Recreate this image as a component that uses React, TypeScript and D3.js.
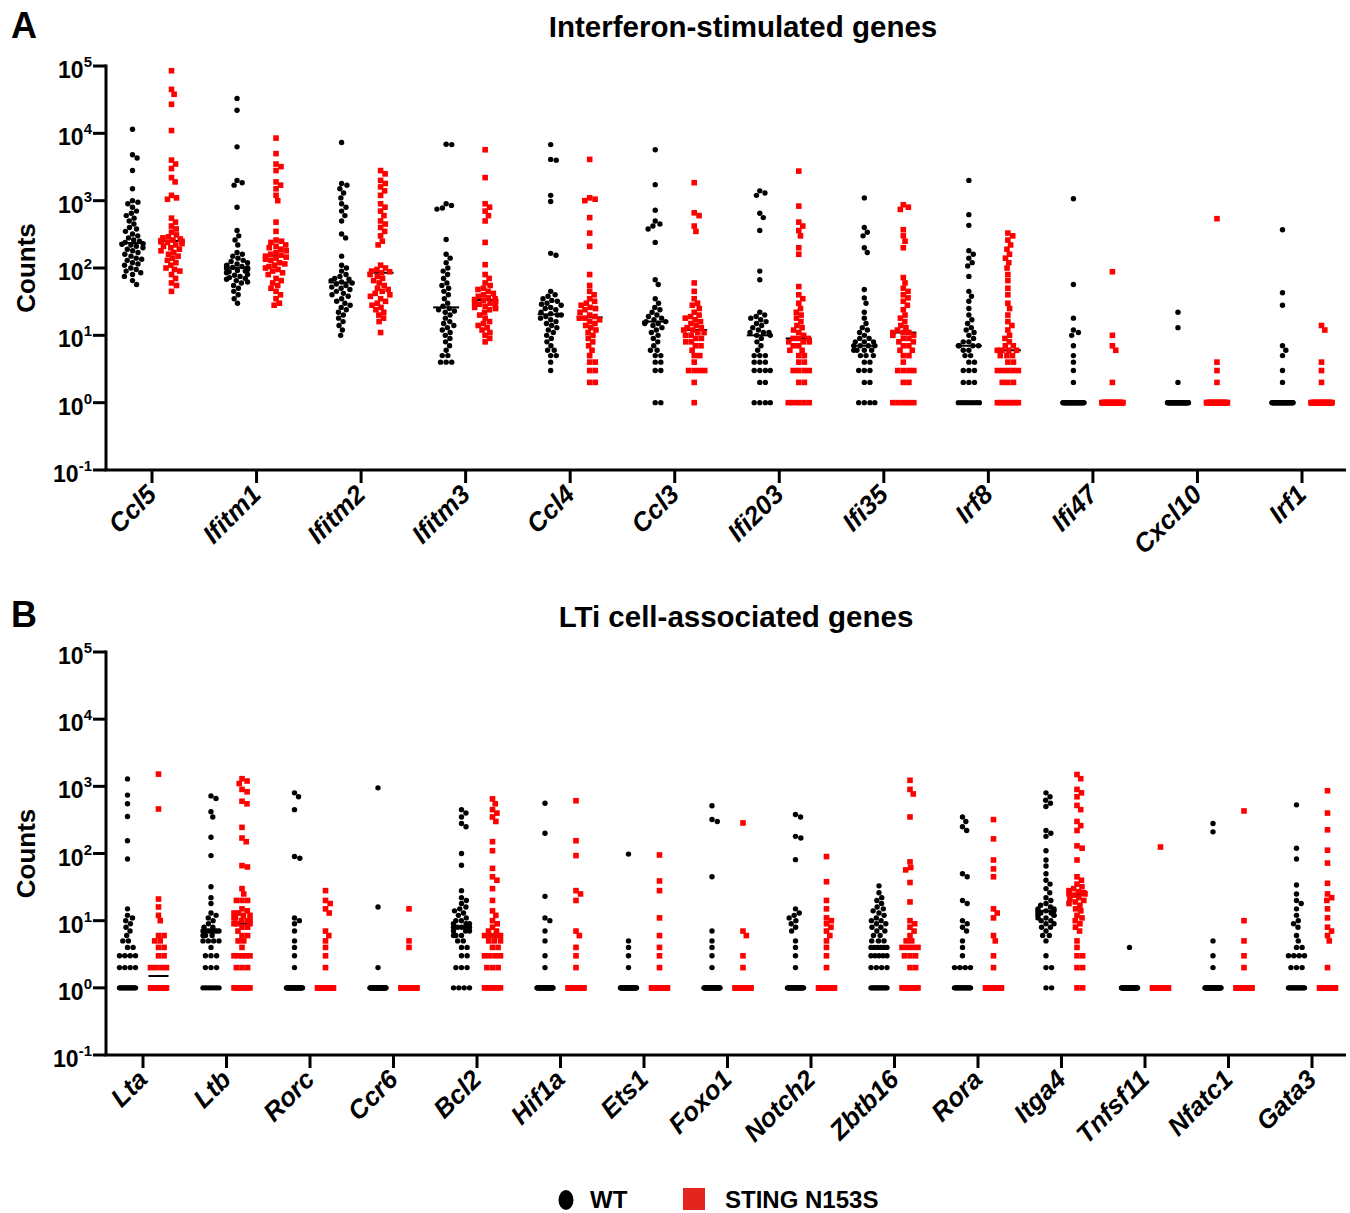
import React from "react";
import * as d3 from "d3";

// ---------- DATA ----------
const genesA = ["Ccl5", "Ifitm1", "Ifitm2", "Ifitm3", "Ccl4", "Ccl3", "Ifi203", "Ifi35", "Irf8", "Ifi47", "Cxcl10", "Irf1"];

const wtA: number[][] = [
  [11500, 4800, 4300, 2800, 1500, 1000, 950, 900, 800, 700, 650, 600, 550, 500, 450, 400, 380, 350, 320, 300, 280, 260, 250, 240, 230, 225, 220, 210, 200, 190, 180, 170, 160, 150, 140, 135, 130, 120, 115, 110, 100, 95, 90, 85, 80, 75, 65, 57],
  [33000, 22000, 6300, 2000, 1850, 1700, 800, 360, 300, 260, 220, 170, 160, 150, 140, 130, 125, 120, 115, 110, 108, 105, 102, 100, 100, 98, 95, 92, 90, 88, 85, 80, 78, 75, 72, 70, 68, 65, 62, 60, 55, 50, 45, 40, 35, 30],
  [7300, 1800, 1700, 1500, 1300, 1100, 900, 800, 700, 600, 500, 320, 280, 150, 110, 100, 90, 80, 75, 70, 68, 65, 62, 60, 58, 55, 52, 50, 48, 45, 42, 40, 38, 35, 32, 30, 28, 26, 24, 22, 20, 18, 16, 14, 12, 10],
  [6900, 6800, 900, 850, 780, 750, 265, 160, 140, 120, 100, 90, 80, 70, 60, 55, 50, 45, 40, 35, 30, 27, 25, 24, 23, 22, 20, 18, 16, 15, 14, 13, 12, 11, 10, 9, 8, 7, 6, 5, 5, 4, 4, 4],
  [6800, 4100, 4000, 1200, 970, 165, 155, 45, 40, 38, 35, 33, 32, 30, 29, 28, 26, 25, 24, 22, 21, 20, 20, 19, 18, 17, 16, 15, 14, 13, 12, 11, 10, 9, 8, 7, 6, 6, 5, 5, 4, 3],
  [5700, 1730, 720, 500, 450, 420, 380, 240, 67, 57, 35, 30, 26, 24, 22, 20, 19, 18, 17, 16, 16, 15, 15, 14, 13, 12, 11, 10, 9, 8, 7, 6, 6, 5, 5, 4, 4, 3, 3, 1, 1],
  [1400, 1300, 1200, 650, 560, 360, 90, 67, 22, 20, 19, 18, 17, 16, 15, 14, 13, 12, 11, 11, 11, 10, 10, 9, 8, 7, 6, 5, 5, 5, 4, 4, 4, 3, 3, 3, 3, 2, 2, 1, 1, 1, 1],
  [1100, 400, 340, 300, 200, 170, 48, 36, 30, 22, 18, 15, 13, 12, 11, 10, 9, 9, 8, 8, 8, 7, 7, 7, 7, 6, 6, 6, 6, 5, 5, 5, 4, 4, 3, 3, 3, 2, 2, 1, 1, 1, 1],
  [2000, 620, 430, 180, 160, 140, 120, 107, 75, 45, 38, 32, 25, 20, 17, 15, 13, 12, 11, 10, 9, 8, 8, 7, 7, 7, 7, 6, 6, 5, 5, 4, 4, 3, 3, 3, 2, 2, 2, 1, 1, 1, 1, 1, 1, 1, 1],
  [1070, 57, 18, 12, 11, 10, 7, 5, 4, 3, 2,
    1, 1, 1, 1, 1, 1, 1, 1, 1, 1, 1, 1, 1, 1, 1, 1, 1, 1, 1, 1, 1, 1, 1, 1, 1, 1, 1, 1, 1, 1, 1, 1, 1, 1],
  [22, 13, 2,
    1, 1, 1, 1, 1, 1, 1, 1, 1, 1, 1, 1, 1, 1, 1, 1, 1, 1, 1, 1, 1, 1, 1, 1, 1, 1, 1, 1, 1, 1, 1, 1, 1, 1, 1, 1, 1, 1, 1, 1, 1, 1, 1, 1, 1, 1],
  [370, 43, 28, 7, 6, 5, 3, 2,
    1, 1, 1, 1, 1, 1, 1, 1, 1, 1, 1, 1, 1, 1, 1, 1, 1, 1, 1, 1, 1, 1, 1, 1, 1, 1, 1, 1, 1, 1, 1, 1, 1, 1, 1, 1, 1],
];

const stingA: number[][] = [
  [85000, 45000, 38000, 27000, 11000, 4000, 3500, 3000, 2200, 1900, 1200, 1100, 1050, 550, 480, 420, 380, 340, 310, 290, 280, 270, 260, 255, 250, 245, 240, 230, 220, 210, 200, 190, 180, 170, 160, 150, 140, 130, 120, 110, 100, 95, 90, 80, 70, 60, 55, 45],
  [8500, 5000, 3500, 3200, 2800, 1900, 1700, 1500, 1200, 1000, 480, 350, 260, 250, 240, 220, 210, 200, 190, 180, 170, 160, 155, 150, 145, 140, 135, 130, 120, 115, 110, 105, 100, 95, 90, 85, 80, 70, 65, 60, 55, 50, 45, 40, 35, 30, 28],
  [2800, 2500, 2000, 1800, 1600, 1400, 1200, 900, 800, 700, 600, 500, 450, 400, 350, 300, 250, 220, 110, 100, 95, 90, 88, 85, 80, 75, 70, 65, 60, 55, 50, 48, 45, 42, 40, 38, 35, 32, 30, 28, 26, 24, 22, 20, 18, 16, 11],
  [5700, 2200, 900, 800, 700, 600, 500, 240, 112, 80, 70, 60, 55, 50, 48, 45, 42, 40, 38, 36, 35, 34, 33, 32, 31, 30, 29, 28, 27, 26, 25, 24, 22, 20, 18, 16, 15, 14, 13, 12, 11, 10, 9, 8],
  [4100, 1100, 1050, 1000, 560, 330, 210, 80, 55, 45, 40, 35, 32, 30, 28, 26, 25, 24, 22, 20, 19, 18, 18, 17, 16, 15, 14, 13, 12, 11, 10, 9, 8, 7, 6, 5, 4, 4, 3, 3, 2, 2],
  [1850, 660, 600, 420, 350, 60, 45, 35, 30, 28, 25, 22, 20, 19, 18, 17, 16, 15, 14, 13, 13, 12, 12, 11, 11, 10, 10, 9, 9, 8, 8, 7, 7, 6, 5, 5, 4, 3, 3, 3, 3, 2, 1],
  [2750, 830, 480, 420, 360, 300, 200, 160, 53, 40, 35, 30, 25, 22, 20, 18, 16, 14, 13, 12, 11, 10, 9, 9, 9, 8, 8, 8, 7, 7, 6, 6, 5, 5, 4, 4, 3, 3, 3, 3, 2, 2, 1, 1, 1, 1, 1],
  [870, 800, 740, 370, 300, 250, 200, 72, 60, 50, 45, 40, 36, 32, 28, 24, 20, 18, 16, 14, 13, 12, 11, 11, 11, 10, 10, 9, 9, 8, 8, 7, 7, 6, 6, 5, 5, 4, 3, 3, 3, 3, 2, 2, 1, 1, 1, 1, 1],
  [330, 300, 260, 220, 190, 160, 140, 120, 100, 80, 65, 50, 40, 30, 25, 20, 16, 14, 12, 10, 9, 8, 7, 7, 6, 6, 6, 6, 5, 5, 5, 4, 4, 3, 3, 3, 3, 3, 2, 2, 2, 1, 1, 1, 1, 1, 1, 1, 1],
  [88, 10, 7, 6, 2,
    1, 1, 1, 1, 1, 1, 1, 1, 1, 1, 1, 1, 1, 1, 1, 1, 1, 1, 1, 1, 1, 1, 1, 1, 1, 1, 1, 1, 1, 1, 1, 1, 1, 1, 1, 1, 1, 1, 1, 1],
  [540, 4, 3, 2,
    1, 1, 1, 1, 1, 1, 1, 1, 1, 1, 1, 1, 1, 1, 1, 1, 1, 1, 1, 1, 1, 1, 1, 1, 1, 1, 1, 1, 1, 1, 1, 1, 1, 1, 1, 1, 1, 1, 1, 1, 1],
  [14, 12, 4, 3, 2,
    1, 1, 1, 1, 1, 1, 1, 1, 1, 1, 1, 1, 1, 1, 1, 1, 1, 1, 1, 1, 1, 1, 1, 1, 1, 1, 1, 1, 1, 1, 1, 1, 1, 1, 1, 1, 1, 1, 1, 1],
];

const genesB = ["Lta", "Ltb", "Rorc", "Ccr6", "Bcl2", "Hif1a", "Ets1", "Foxo1", "Notch2", "Zbtb16", "Rora", "Itga4", "Tnfsf11", "Nfatc1", "Gata3"];

const wtB: number[][] = [
  [1290, 740, 550, 355, 155, 83, 15, 12, 11, 10, 9, 8, 7, 6, 5, 5, 4, 4, 3, 3, 3, 3, 2, 2, 2, 2,
    1, 1, 1, 1, 1, 1, 1, 1, 1, 1, 1, 1, 1, 1],
  [720, 660, 420, 350, 175, 93, 32, 22, 18, 13, 12, 11, 10, 9, 8, 8, 7, 7, 7, 7, 7, 7, 7, 7, 6, 6, 6, 5, 5, 5, 5, 4, 3, 3, 3, 2, 2, 2, 1, 1, 1, 1, 1, 1, 1],
  [800, 700, 450, 90, 85, 11, 10, 9, 7, 5, 4, 3, 2,
    1, 1, 1, 1, 1, 1, 1, 1, 1, 1, 1, 1, 1, 1, 1, 1, 1, 1, 1, 1, 1, 1, 1, 1, 1, 1, 1, 1, 1, 1, 1, 1],
  [950, 16, 2,
    1, 1, 1, 1, 1, 1, 1, 1, 1, 1, 1, 1, 1, 1, 1, 1, 1, 1, 1, 1, 1, 1, 1, 1, 1, 1, 1, 1, 1, 1, 1, 1, 1, 1, 1, 1, 1, 1, 1, 1, 1, 1, 1, 1, 1, 1],
  [450, 400, 350, 280, 250, 100, 67, 28, 22, 20, 18, 16, 15, 14, 13, 12, 11, 10, 10, 9, 9, 9, 8, 8, 8, 8, 8, 7, 7, 7, 6, 6, 6, 5, 5, 4, 4, 3, 3, 2, 2, 2, 1, 1, 1, 1],
  [560, 200, 23, 11, 10, 7, 5, 3, 2,
    1, 1, 1, 1, 1, 1, 1, 1, 1, 1, 1, 1, 1, 1, 1, 1, 1, 1, 1, 1, 1, 1, 1, 1, 1, 1, 1, 1, 1, 1, 1, 1, 1, 1, 1, 1],
  [98, 5, 4, 3, 2,
    1, 1, 1, 1, 1, 1, 1, 1, 1, 1, 1, 1, 1, 1, 1, 1, 1, 1, 1, 1, 1, 1, 1, 1, 1, 1, 1, 1, 1, 1, 1, 1, 1, 1, 1, 1, 1, 1, 1, 1],
  [515, 320, 300, 45, 7, 5, 4, 3, 2,
    1, 1, 1, 1, 1, 1, 1, 1, 1, 1, 1, 1, 1, 1, 1, 1, 1, 1, 1, 1, 1, 1, 1, 1, 1, 1, 1, 1, 1, 1, 1, 1, 1, 1, 1, 1],
  [380, 350, 180, 170, 81, 15, 13, 12, 11, 10, 9, 8, 7, 5, 4, 3, 2,
    1, 1, 1, 1, 1, 1, 1, 1, 1, 1, 1, 1, 1, 1, 1, 1, 1, 1, 1, 1, 1, 1, 1, 1, 1, 1, 1, 1],
  [33, 26, 22, 20, 18, 16, 15, 14, 13, 12, 11, 10, 10, 9, 9, 8, 8, 7, 7, 6, 6, 5, 5, 5, 4, 4, 4, 4, 4, 4, 3, 3, 3, 3, 3, 2, 2, 2, 2,
    1, 1, 1, 1, 1, 1, 1, 1, 1, 1, 1, 1],
  [350, 300, 250, 220, 50, 45, 20, 18, 10, 9, 8, 7, 5, 4, 3, 2, 2, 2, 2,
    1, 1, 1, 1, 1, 1, 1, 1, 1, 1, 1, 1, 1, 1, 1, 1],
  [800, 700, 620, 560, 500, 220, 200, 180, 110, 80, 65, 50, 40, 35, 30, 26, 22, 20, 18, 17, 16, 15, 15, 14, 14, 14, 13, 13, 13, 12, 12, 12, 11, 11, 10, 10, 9, 9, 8, 8, 7, 6, 6, 5, 3, 2, 2, 1, 1],
  [4,
    1, 1, 1, 1, 1, 1, 1, 1, 1, 1, 1, 1, 1, 1, 1, 1, 1, 1, 1, 1, 1, 1, 1, 1, 1, 1, 1, 1, 1, 1, 1, 1, 1, 1, 1, 1, 1, 1, 1, 1, 1, 1, 1, 1],
  [280, 210, 5, 3, 2,
    1, 1, 1, 1, 1, 1, 1, 1, 1, 1, 1, 1, 1, 1, 1, 1, 1, 1, 1, 1, 1, 1, 1, 1, 1, 1, 1, 1, 1, 1, 1, 1, 1, 1, 1, 1, 1, 1, 1, 1],
  [530, 120, 83, 34, 25, 20, 18, 15, 12, 10, 9, 8, 6, 5, 4, 4, 3, 3, 3, 3, 2, 2, 2,
    1, 1, 1, 1, 1, 1, 1, 1, 1, 1, 1, 1, 1, 1],
];

const stingB: number[][] = [
  [1520, 460, 21, 16, 12, 10, 6, 6, 5, 5, 4, 4, 3, 3, 2, 2, 2, 2,
    1, 1, 1, 1, 1, 1, 1, 1, 1, 1, 1, 1, 1, 1, 1, 1, 1, 1],
  [1300, 1200, 1100, 900, 830, 600, 550, 245, 170, 150, 66, 63, 30, 25, 20, 20, 20, 15, 14, 13, 13, 12, 12, 11, 11, 10, 10, 10, 9, 9, 9, 8, 8, 7, 6, 6, 5, 5, 4, 3, 3, 3, 3, 3, 2, 2, 2,
    1, 1, 1, 1, 1, 1, 1, 1, 1, 1],
  [28, 20, 18, 15, 13, 7, 6, 5, 4, 3, 2,
    1, 1, 1, 1, 1, 1, 1, 1, 1, 1, 1, 1, 1, 1, 1, 1, 1, 1, 1, 1, 1, 1, 1, 1, 1, 1, 1, 1, 1, 1, 1, 1, 1, 1],
  [15, 5, 4,
    1, 1, 1, 1, 1, 1, 1, 1, 1, 1, 1, 1, 1, 1, 1, 1, 1, 1, 1, 1, 1, 1, 1, 1, 1, 1, 1, 1, 1, 1, 1, 1, 1, 1, 1, 1, 1, 1, 1, 1, 1, 1, 1, 1, 1, 1],
  [650, 550, 450, 400, 350, 300, 150, 110, 60, 45, 40, 30, 20, 14, 12, 10, 9, 8, 7, 7, 6, 6, 6, 6, 5, 5, 5, 4, 4, 3, 3, 3, 3, 2, 2, 2, 1, 1, 1, 1, 1, 1, 1, 1],
  [610, 155, 93, 28, 25, 20, 7, 6, 4, 3, 2,
    1, 1, 1, 1, 1, 1, 1, 1, 1, 1, 1, 1, 1, 1, 1, 1, 1, 1, 1, 1, 1, 1, 1, 1, 1, 1, 1, 1, 1, 1, 1, 1, 1, 1],
  [95, 39, 28, 11, 6, 4, 3, 2,
    1, 1, 1, 1, 1, 1, 1, 1, 1, 1, 1, 1, 1, 1, 1, 1, 1, 1, 1, 1, 1, 1, 1, 1, 1, 1, 1, 1, 1, 1, 1, 1, 1, 1, 1, 1],
  [285, 7, 6, 3, 2,
    1, 1, 1, 1, 1, 1, 1, 1, 1, 1, 1, 1, 1, 1, 1, 1, 1, 1, 1, 1, 1, 1, 1, 1, 1, 1, 1, 1, 1, 1, 1, 1, 1, 1, 1, 1, 1, 1, 1, 1],
  [90, 38, 20, 15, 11, 10, 9, 8, 7, 6, 5, 4, 3, 2,
    1, 1, 1, 1, 1, 1, 1, 1, 1, 1, 1, 1, 1, 1, 1, 1, 1, 1, 1, 1, 1, 1, 1, 1, 1, 1, 1, 1, 1, 1, 1],
  [1230, 900, 770, 350, 75, 62, 57, 37, 19, 10, 9, 8, 7, 6, 5, 5, 4, 4, 4, 4, 3, 3, 3, 2, 2,
    1, 1, 1, 1, 1, 1, 1, 1, 1, 1, 1],
  [320, 165, 80, 59, 45, 15, 13, 11, 6, 5, 3, 2,
    1, 1, 1, 1, 1, 1, 1, 1, 1, 1, 1, 1, 1, 1, 1, 1, 1, 1, 1, 1, 1, 1, 1, 1, 1, 1, 1, 1, 1, 1, 1, 1, 1],
  [1500, 1300, 900, 800, 700, 520, 450, 300, 260, 220, 130, 120, 80, 45, 40, 35, 32, 30, 28, 27, 26, 25, 25, 24, 22, 21, 20, 19, 18, 17, 15, 14, 12, 11, 10, 9, 8, 7, 5, 4, 3, 3, 2, 2, 1, 1],
  [125,
    1, 1, 1, 1, 1, 1, 1, 1, 1, 1, 1, 1, 1, 1, 1, 1, 1, 1, 1, 1, 1, 1, 1, 1, 1, 1, 1, 1, 1, 1, 1, 1, 1, 1, 1, 1, 1, 1, 1, 1, 1, 1, 1, 1],
  [430, 10, 5, 3, 2,
    1, 1, 1, 1, 1, 1, 1, 1, 1, 1, 1, 1, 1, 1, 1, 1, 1, 1, 1, 1, 1, 1, 1, 1, 1, 1, 1, 1, 1, 1, 1, 1, 1, 1, 1, 1, 1, 1, 1, 1],
  [860, 400, 225, 112, 72, 36, 25, 22, 20, 15, 11, 8, 7, 6, 5, 2,
    1, 1, 1, 1, 1, 1, 1, 1, 1, 1, 1, 1, 1, 1, 1, 1, 1, 1, 1, 1, 1, 1, 1, 1, 1, 1, 1, 1, 1],
];

const tickExps = [-1, 0, 1, 2, 3, 4, 5];
const seriesNames = ["WT", "STING N153S"];

// ---------- STYLE ----------
const FONT = "'Liberation Sans', Arial, Helvetica, sans-serif";
const RED = "#ff0000";
const LEGEND_RED = "#e2261d";

type Placed = { v: number; y: number; x: number };

function swarm(vals: number[], y: (v: number) => number, cx: number, D: number, maxHalf: number): Placed[] {
  const pts = vals.map((v) => ({ v, y: y(v) })).sort((a, b) => a.y - b.y);
  const placed: { v: number; y: number; dx: number }[] = [];
  for (const p of pts) {
    const cands = [0];
    for (const q of placed) {
      const dy = Math.abs(q.y - p.y);
      if (dy < D) {
        const dx = Math.sqrt(D * D - dy * dy);
        cands.push(q.dx + dx, q.dx - dx);
      }
    }
    cands.sort((a, b) => Math.abs(a) - Math.abs(b));
    let chosen = cands[cands.length - 1];
    for (const c of cands) {
      let ok = true;
      for (const q of placed) {
        const ddx = q.dx - c;
        const ddy = q.y - p.y;
        if (ddx * ddx + ddy * ddy < D * D - 1e-6) { ok = false; break; }
      }
      if (ok) { chosen = c; break; }
    }
    placed.push({ ...p, dx: chosen });
  }
  // rows of identical values that overflow the allowed width are spread evenly across it
  const counts = d3.rollup(vals, (g) => g.length, (v) => v);
  const seen = new Map<number, number>();
  return placed.map((p) => {
    const n = counts.get(p.v) || 1;
    let dx = Math.max(-maxHalf, Math.min(maxHalf, p.dx));
    if (n > 1 && (n - 1) * D > 2 * maxHalf) {
      const k = seen.get(p.v) || 0;
      seen.set(p.v, k + 1);
      dx = -maxHalf + (2 * maxHalf * k) / (n - 1);
    }
    return { v: p.v, y: p.y, x: cx + dx };
  });
}

type PanelProps = {
  genes: string[];
  wt: number[][];
  st: number[][];
  top: number;
  bottom: number;
  firstX: number;
  lastX: number;
  off: number;
  maxHalf: number;
  medW: number;
  title: string;
  titleX: number;
  titleY: number;
  letter: string;
  letterY: number;
};

const AXIS_X = 106;
const AXIS_END = 1346;

function Panel(p: PanelProps) {
  const y = d3.scaleLog().domain([0.1, 1e5]).range([p.bottom, p.top]);
  const x = d3.scalePoint<string>().domain(p.genes).range([p.firstX, p.lastX]);
  const D = 5.6;
  return (
    <g>
      <text x={11} y={p.letterY} fontFamily={FONT} fontWeight="bold" fontSize={36}>{p.letter}</text>
      <text x={p.titleX} y={p.titleY} textAnchor="middle" fontFamily={FONT} fontWeight="bold" fontSize={29.5}>{p.title}</text>
      <text transform={`translate(35,${(p.top + p.bottom) / 2}) rotate(-90)`} textAnchor="middle" fontFamily={FONT} fontWeight="bold" fontSize={26}>Counts</text>
      {/* y axis */}
      <line x1={AXIS_X} x2={AXIS_X} y1={p.top - 1.5} y2={p.bottom} stroke="#000" strokeWidth={3} />
      {tickExps.map((e) => {
        const ty = y(Math.pow(10, e));
        return (
          <g key={e}>
            <line x1={93} x2={AXIS_X} y1={ty} y2={ty} stroke="#000" strokeWidth={3} />
            <text x={92} y={ty + 12} textAnchor="end" fontFamily={FONT} fontWeight="bold" fontSize={23}>
              10<tspan fontSize={15} dy={-11}>{String(e)}</tspan>
            </text>
          </g>
        );
      })}
      {/* x axis */}
      <line x1={AXIS_X - 1.5} x2={AXIS_END} y1={p.bottom} y2={p.bottom} stroke="#000" strokeWidth={3} />
      {p.genes.map((g) => {
        const gx = x(g) as number;
        return (
          <g key={g}>
            <line x1={gx} x2={gx} y1={p.bottom} y2={p.bottom + 13} stroke="#000" strokeWidth={3} />
            <text transform={`translate(${gx + 6},${p.bottom + 26}) rotate(-45)`} textAnchor="end" fontFamily={FONT} fontWeight="bold" fontStyle="italic" fontSize={26}>{g}</text>
          </g>
        );
      })}
      {/* groups */}
      {p.genes.map((g, i) => {
        const gx = x(g) as number;
        const cw = gx - p.off;
        const cs = gx + p.off;
        const mw = d3.median(p.wt[i]) as number;
        const ms = d3.median(p.st[i]) as number;
        const pw = swarm(p.wt[i], y, cw, D, p.maxHalf);
        const ps = swarm(p.st[i], y, cs, D, p.maxHalf);
        return (
          <g key={g}>
            <line x1={cw - p.medW / 2} x2={cw + p.medW / 2} y1={y(mw)} y2={y(mw)} stroke="#000" strokeWidth={2} />
            <line x1={cs - p.medW / 2} x2={cs + p.medW / 2} y1={y(ms)} y2={y(ms)} stroke="#000" strokeWidth={2} />
            {pw.map((pt, j) => (
              <circle key={"w" + j} cx={pt.x} cy={pt.y} r={2.7} fill="#000" />
            ))}
            {ps.map((pt, j) => (
              <rect key={"s" + j} x={pt.x - 2.8} y={pt.y - 2.8} width={5.6} height={5.6} fill={RED} />
            ))}
          </g>
        );
      })}
    </g>
  );
}

export default function App() {
  return (
    <svg width={1350} height={1213} style={{ position: "absolute", left: 0, top: 0, background: "#fff" }}>
      <rect x={0} y={0} width={1350} height={1213} fill="#fff" />
      <Panel genes={genesA} wt={wtA} st={stingA} top={66} bottom={470} firstX={152} lastX={1302}
        off={19.5} maxHalf={10.5} medW={26} title="Interferon-stimulated genes" titleX={743} titleY={37} letter="A" letterY={38} />
      <Panel genes={genesB} wt={wtB} st={stingB} top={652} bottom={1055} firstX={143} lastX={1312}
        off={15.5} maxHalf={8} medW={20} title="LTi cell-associated genes" titleX={736} titleY={627} letter="B" letterY={627} />
      {/* legend */}
      <ellipse cx={566} cy={1200} rx={7.5} ry={10} fill="#000" />
      <text x={590} y={1208} fontFamily={FONT} fontWeight="bold" fontSize={24}>{seriesNames[0]}</text>
      <rect x={683} y={1188} width={22} height={22} fill={LEGEND_RED} />
      <text x={725} y={1208} fontFamily={FONT} fontWeight="bold" fontSize={24}>{seriesNames[1]}</text>
    </svg>
  );
}
